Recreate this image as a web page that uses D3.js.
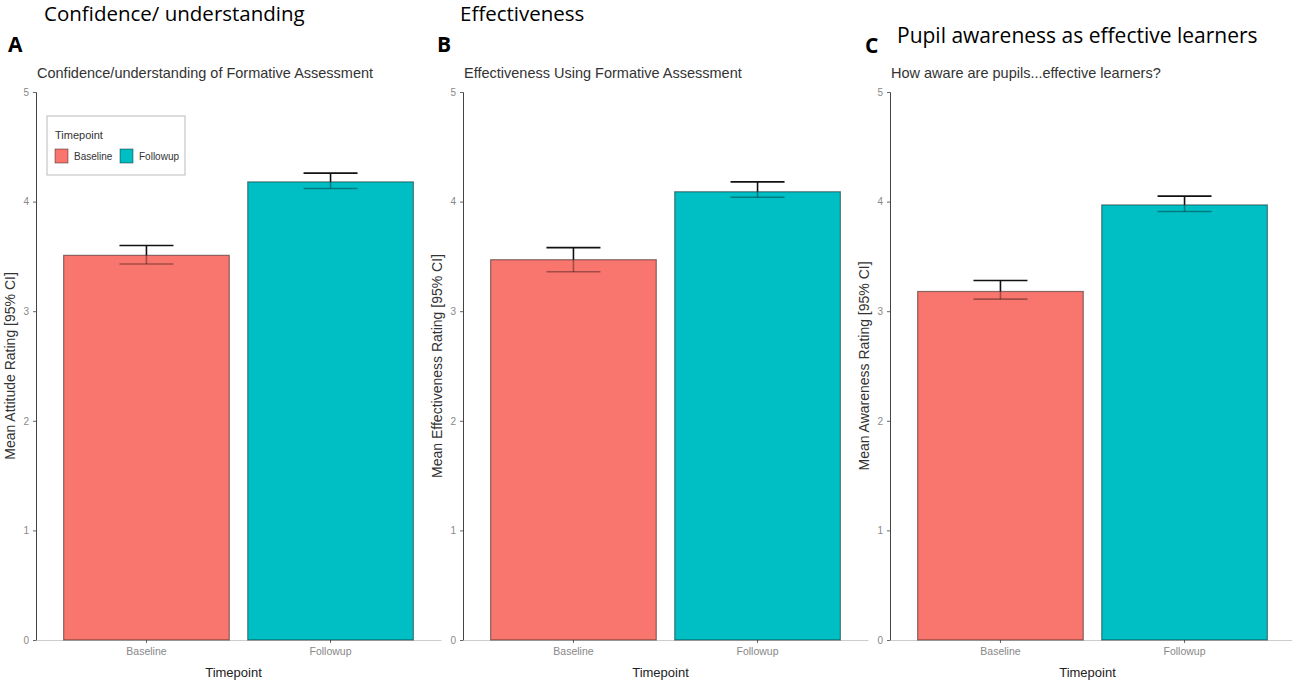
<!DOCTYPE html>
<html>
<head>
<meta charset="utf-8">
<script src="https://cdn.jsdelivr.net/npm/d3@7"></script>
<style>
  body { margin: 0; background: #fff; }
  svg { display: block; }
</style>
</head>
<body>
<div class="chartContainer"></div>
<script>
const WIDTH = 1292;
const HEIGHT = 682;
const PANEL_STEP = 427;
const AXIS_LEFT = 36;
const PLOT_WIDTH = 405;
const Y_TOP = 92;
const Y_BOTTOM = 640;

// data
const timepoints = ['Baseline', 'Followup'];
const panelLetters = ['A', 'B', 'C'];
const panelHeaders = ['Confidence/ understanding', 'Effectiveness', 'Pupil awareness as effective learners'];
const plotTitles = ['Confidence/understanding of Formative Assessment', 'Effectiveness Using Formative Assessment', 'How aware are pupils...effective learners?'];
const yTitles = ['Mean Attitude Rating [95% CI]', 'Mean Effectiveness Rating [95% CI]', 'Mean Awareness Rating [95% CI]'];
const meanRatings = [[3.51, 4.18], [3.47, 4.09], [3.18, 3.97]];
const lowerCI = [[3.43, 4.12], [3.36, 4.04], [3.11, 3.91]];
const upperCI = [[3.60, 4.26], [3.58, 4.18], [3.28, 4.05]];
const yTicks = [0, 1, 2, 3, 4, 5];
const colors = ['#F8766D', '#00BFC4'];

var svg = d3.select('.chartContainer').append('svg')
  .attr('width', WIDTH)
  .attr('height', HEIGHT);

var y = d3.scaleLinear().domain([0, 5]).range([Y_BOTTOM, Y_TOP]);

function drawPanel(i) {
  var left = AXIS_LEFT + i * PANEL_STEP;
  var g = svg.append('g');
  var x = d3.scaleBand()
    .domain(timepoints)
    .range([left, left + PLOT_WIDTH])
    .paddingInner(0.1)
    .paddingOuter(0.15);

  // header text over each panel
  g.append('text')
    .attr('x', left - 28 + (i == 1 ? 2 : 0) + (i == 2 ? 3 : 0))
    .attr('y', i == 2 ? 53 : 52)
    .attr('font-family', 'Open Sans, sans-serif')
    .attr('font-weight', 'bold')
    .attr('font-size', 21)
    .text(panelLetters[i]);
  g.append('text')
    .attr('x', left + (i == 0 ? 8 : i == 1 ? -3 : 7))
    .attr('y', i == 2 ? 43 : 21)
    .attr('font-family', 'Open Sans, sans-serif')
    .attr('font-size', i == 2 ? 21 : 20.5)
    .text(panelHeaders[i]);

  g.append('text')
    .attr('x', left + 1)
    .attr('y', 78)
    .attr('font-family', 'Liberation Sans, sans-serif')
    .attr('font-size', 14.5)
    .attr('fill', '#333')
    .text(plotTitles[i]);

  // axes
  var yAxis = d3.axisLeft(y).tickValues(yTicks).tickFormat(d3.format('d')).tickSize(3).tickPadding(4);
  var ya = g.append('g').attr('transform', 'translate(' + left + ',0)').call(yAxis);
  ya.select('.domain').attr('stroke', '#444');
  ya.selectAll('.tick line').attr('stroke', '#666');
  ya.selectAll('.tick text').attr('font-size', 10).attr('fill', '#888')
    .attr('font-family', 'Liberation Sans, sans-serif');

  var xAxis = d3.axisBottom(x).tickSize(3).tickPadding(5).tickSizeOuter(0);
  var xa = g.append('g').attr('transform', 'translate(0,' + Y_BOTTOM + ')').call(xAxis);
  xa.select('.domain').attr('stroke', '#ccc');
  xa.selectAll('.tick line').attr('stroke', '#666');
  xa.selectAll('.tick text').attr('font-size', 10.5).attr('fill', '#888')
    .attr('font-family', 'Liberation Sans, sans-serif');

  g.append('text')
    .attr('x', left + PLOT_WIDTH / 2 - 5)
    .attr('y', 677)
    .attr('text-anchor', 'middle')
    .attr('font-family', 'Liberation Sans, sans-serif')
    .attr('font-size', 13)
    .attr('fill', '#222')
    .text('Timepoint');

  g.append('text')
    .attr('transform', 'translate(' + (left - 21) + ',' + ((Y_TOP + Y_BOTTOM) / 2) + ') rotate(-90)')
    .attr('text-anchor', 'middle')
    .attr('font-family', 'Liberation Sans, sans-serif')
    .attr('font-size', 14)
    .attr('fill', '#333')
    .text(yTitles[i]);

  // bars
  g.selectAll('.bar')
    .data(timepoints)
    .enter().append('rect')
    .attr('class', 'bar')
    .attr('x', function (d) { return x(d); })
    .attr('y', function (d, j) { return y(meanRatings[i][j]); })
    .attr('width', x.bandwidth())
    .attr('height', function (d, j) { return Y_BOTTOM - y(meanRatings[i][j]); })
    .attr('fill', function (d, j) { return colors[j]; })
    .attr('stroke', '#000')
    .attr('stroke-opacity', 0.45)
    .attr('stroke-width', 1.2);

  // error bars: upper half above the bar, lower half faint inside it
  timepoints.forEach(function (t, j) {
    var cx = x(t) + x.bandwidth() / 2;
    var hw = 27;
    var eb = g.append('g').attr('stroke', '#111').attr('stroke-width', 1.6);
    eb.append('line')
      .attr('x1', cx).attr('x2', cx)
      .attr('y1', y(upperCI[i][j])).attr('y2', y(meanRatings[i][j]));
    eb.append('line')
      .attr('x1', cx - hw).attr('x2', cx + hw)
      .attr('y1', y(upperCI[i][j])).attr('y2', y(upperCI[i][j]));
    var lo = g.append('g').attr('stroke', '#000').attr('stroke-opacity', 0.35).attr('stroke-width', 1.6);
    lo.append('line')
      .attr('x1', cx).attr('x2', cx)
      .attr('y1', y(meanRatings[i][j])).attr('y2', y(lowerCI[i][j]));
    lo.append('line')
      .attr('x1', cx - hw).attr('x2', cx + hw)
      .attr('y1', y(lowerCI[i][j])).attr('y2', y(lowerCI[i][j]));
  });
}

function drawLegend() {
  var lg = svg.append('g').attr('transform', 'translate(47,116)');
  lg.append('rect')
    .attr('width', 138).attr('height', 59)
    .attr('fill', '#fff').attr('stroke', '#bbb');
  lg.append('text')
    .attr('x', 8).attr('y', 23)
    .attr('font-family', 'Liberation Sans, sans-serif')
    .attr('font-size', 11).attr('fill', '#333')
    .text('Timepoint');
  var item = lg.selectAll('.key')
    .data(timepoints)
    .enter().append('g')
    .attr('transform', function (d, j) { return 'translate(' + (8 + j * 65) + ',33)'; });
  item.append('rect')
    .attr('width', 13).attr('height', 14)
    .attr('fill', function (d, j) { return colors[j]; })
    .attr('stroke', '#000').attr('stroke-opacity', 0.4);
  item.append('text')
    .attr('x', 19).attr('y', 11)
    .attr('font-family', 'Liberation Sans, sans-serif')
    .attr('font-size', 10).attr('fill', '#333')
    .text(function (d) { return d; });
}

window.onload = function () {
  for (var i = 0; i < 3; i++) {
    drawPanel(i);
  }
  drawLegend();
};
</script>
</body>
</html>
